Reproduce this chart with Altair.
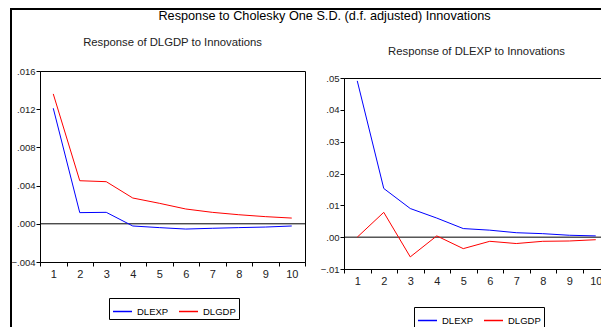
import altair as alt
import pandas as pd

FONT = "Liberation Sans, Arial, sans-serif"

periods = list(range(1, 11))
shocks = ["DLEXP", "DLGDP"]
colors = ["#0000ff", "#ff0000"]

# Response of DLGDP to innovations
gdp_to_dlexp = [0.0121, 0.00117, 0.0012, -0.00023, -0.0004, -0.00055, -0.00047, -0.0004, -0.00034, -0.00023]
gdp_to_dlgdp = [0.0136, 0.00451, 0.00441, 0.0027, 0.00215, 0.00155, 0.0012, 0.00095, 0.00075, 0.0006]
# Response of DLEXP to innovations
exp_to_dlexp = [0.0491, 0.0153, 0.0090, 0.0060, 0.0027, 0.0022, 0.0014, 0.0011, 0.0006, 0.0004]
exp_to_dlgdp = [0.0, 0.0078, -0.0062, 0.0004, -0.0036, -0.0013, -0.0020, -0.0013, -0.0012, -0.0008]

left_ticks = [-0.004, 0.0, 0.004, 0.008, 0.012, 0.016]
right_ticks = [-0.01, 0.0, 0.01, 0.02, 0.03, 0.04, 0.05]


def long_df(a, b):
    return pd.DataFrame({
        "period": periods * 2,
        "shock": [shocks[0]] * 10 + [shocks[1]] * 10,
        "value": a + b,
    })


one_row = pd.DataFrame({"z": [0]})


def panel(df, title, ticks, decimals, legend_x, legend_y, title_offset, extra=()):
    color = alt.Color(
        "shock:N",
        scale=alt.Scale(domain=shocks, range=colors),
        legend=alt.Legend(
            orient="none", legendX=legend_x, legendY=legend_y,
            direction="horizontal", title=None,
            symbolType="stroke", symbolSize=361, symbolStrokeWidth=1.5,
            labelFont=FONT, labelFontSize=9.5, labelColor="black",
            strokeColor="black", padding=3, columnPadding=7, labelOffset=4,
        ),
    )
    x = alt.X(
        "period:O", bandPosition=0.5,
        scale=alt.Scale(type="band", paddingInner=0, paddingOuter=0),
        axis=alt.Axis(
            title=None, labelAngle=0, tickBand="extent",
            domainColor="black", tickColor="black", tickSize=4,
            labelFont=FONT, labelFontSize=11, labelColor="#222", labelPadding=2,
        ),
    )
    y = alt.Y(
        "value:Q",
        scale=alt.Scale(domain=[ticks[0], ticks[-1]], nice=False, zero=False),
        axis=alt.Axis(
            title=None, values=ticks, tickCount=len(ticks) + 2, grid=False,
            labelOverlap=False,
            labelExpr="replace(format(datum.value, '.%df'), '0.', '.')" % decimals,
            domainColor="black", tickColor="black", tickSize=4,
            labelFont=FONT, labelFontSize=9.5, labelColor="#222", labelPadding=1,
        ),
    )
    zero = alt.Chart(one_row).mark_rule(color="black", strokeWidth=1).encode(y=alt.datum(0))
    lines = alt.Chart(df).mark_line(strokeWidth=1).encode(x=x, y=y, color=color)
    return alt.layer(zero, lines, *extra).properties(
        width=265, height=191,
        title=alt.TitleParams(title, font=FONT, fontSize=11.3, fontWeight="normal",
                              color="#222", anchor="middle", frame="group",
                              baseline="alphabetic", offset=title_offset),
        view=alt.ViewBackground(stroke="black", strokeWidth=1),
    )


# window frame lines (decoration)
frame_v = alt.Chart(one_row).mark_rule(color="black", strokeWidth=2).encode(
    x=alt.value(-29), y=alt.value(-63), y2=alt.value(256)
)
frame_h = alt.Chart(one_row).mark_rule(color="black", strokeWidth=2).encode(
    x=alt.value(-30), x2=alt.value(561), y=alt.value(-62)
)

left = panel(long_df(gdp_to_dlexp, gdp_to_dlgdp), "Response of DLGDP to Innovations",
             left_ticks, 3, 69, 227, -50.5, extra=(frame_v, frame_h))
right = panel(long_df(exp_to_dlexp, exp_to_dlgdp), "Response of DLEXP to Innovations",
              right_ticks, 2, 70, 229, 7)

spacer = alt.Chart(one_row).mark_point(opacity=0).encode(
    x=alt.value(0), y=alt.value(0)
).properties(width=265, height=7, view=alt.ViewBackground(stroke="transparent"))

right_col = alt.vconcat(spacer, right, spacing=0, bounds="flush").resolve_legend(color="independent")

chart = alt.hconcat(left, right_col, spacing=39, bounds="flush").resolve_legend(
    color="independent"
).properties(
    title=alt.TitleParams(
        "Response to Cholesky One S.D. (d.f. adjusted) Innovations",
        font=FONT, fontSize=12.7, fontWeight="normal", color="black",
        anchor="start", frame="group", align="center", dx=284.5,
        baseline="alphabetic", offset=-26.5,
    ),
    autosize=alt.AutoSizeParams(type="none"),
    padding={"left": 32, "top": 63, "right": 561, "bottom": 256},
).configure(font=FONT).configure_view(stroke="transparent")

chart.save("out.html", embed_options={"renderer": "svg", "actions": False})
